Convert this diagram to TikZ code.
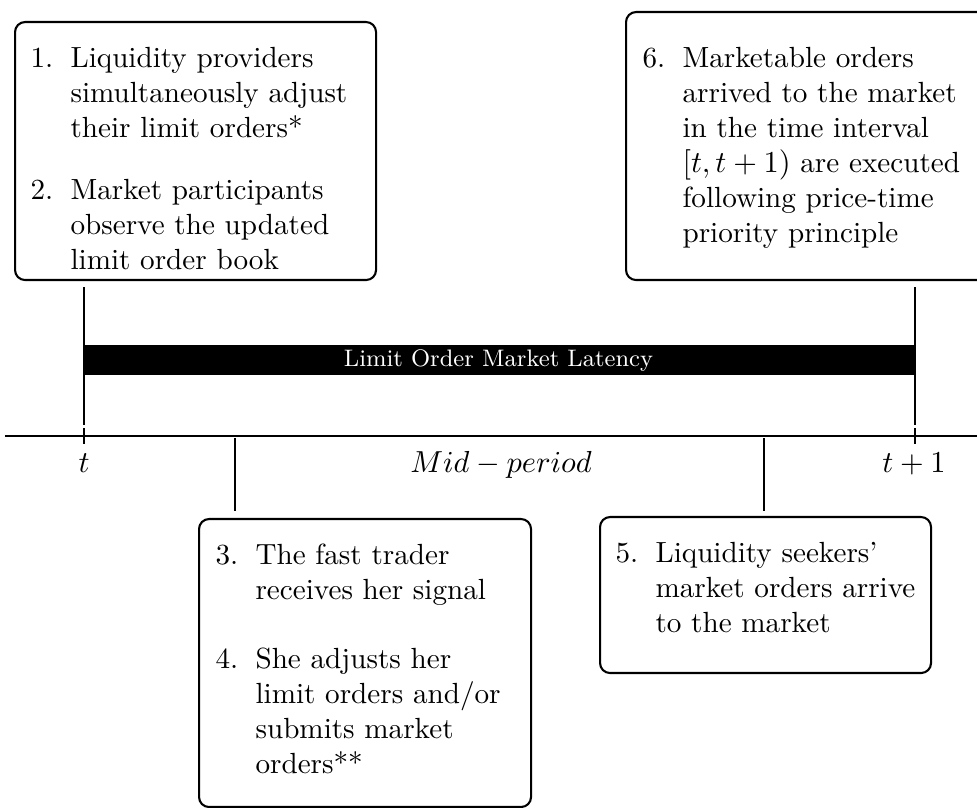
\documentclass[tikz,border=0pt]{standalone}
\usetikzlibrary{calc}

% one numbered step with a hanging indent
\newcommand\stepitem[2]{\par\hangindent=14.4pt\hangafter=1\noindent\makebox[14.4pt][l]{#1}#2}
\newcommand\stepfmt{\fontsize{10.5}{12.6}\selectfont\setlength\parskip{0pt}}

\tikzset{
  box/.style={draw, line width=0.75pt, rounded corners=3.6pt, inner sep=0pt, anchor=north west},
  txt/.style={anchor=base west, inner sep=0pt},
  lead/.style={line width=0.75pt},
  guide/.style={line width=0.4pt},
  axislabel/.style={anchor=base, inner sep=0pt, font=\fontsize{11}{13}\selectfont},
}

\begin{document}
\begin{tikzpicture}[x=0.36pt, y=-0.36pt]
\path[use as bounding box, clip] (0,0) rectangle (977,808);

% time axis and its marks
\coordinate (tA) at (84,436);
\coordinate (tB) at (915,436);
\coordinate (m1) at (235,436);
\coordinate (m2) at (764,436);
\coordinate (axL) at (5,436);
\coordinate (axR) at (977,436);
\draw[line width=0.85pt] (axL) -- (axR);
\draw[lead] ($(tA)+(0,-8)$) -- ($(tA)+(0,8)$);
\draw[lead] ($(tB)+(0,-8)$) -- ($(tB)+(0,8)$);

\node[axislabel] (lt) at (84,473) {$t$};
\node[axislabel] (lm) at (501,473) {$Mid-period$};
\node[axislabel] (lt1) at (914,473) {$t+1$};

% latency bar
\fill (84,345) rectangle (915,375);
\node[anchor=base, inner sep=0pt, text=white, font=\fontsize{8.6}{10}\selectfont] (lat) at (498.5,367) {Limit Order Market Latency};

% step boxes
\node[box, minimum width=129.96pt, minimum height=92.88pt] (b1) at (14,21) {};
\node[box, minimum width=131.4pt, minimum height=96.48pt] (b6) at (625,11) {};
\node[box, minimum width=119.52pt, minimum height=103.68pt] (b3) at (198,518) {};
\node[box, minimum width=119.16pt, minimum height=56.16pt] (b5) at (599,516) {};

\node[txt] (x1) at (30,68) {\parbox[t]{130pt}{\stepfmt
  \stepitem{1.}{Liquidity providers\\simultaneously adjust\\their limit orders*}
  \par\vspace{9.4pt}
  \stepitem{2.}{Market participants\\observe the updated\\limit order book}}};

\node[txt] (x6) at (642,68) {\parbox[t]{130pt}{\stepfmt
  \stepitem{6.}{Marketable orders\\arrived to the market\\in the time interval\\$[t,t+1)$ are executed\\following price-time\\priority principle}}};

\node[txt] (x3) at (215,565) {\parbox[t]{130pt}{\stepfmt
  \stepitem{3.}{The fast trader\\receives her signal}
  \par\vspace{11.9pt}
  \stepitem{4.}{She adjusts her\\limit orders and/or\\submits market\\orders**}}};

\node[txt] (x5) at (615,563) {\parbox[t]{130pt}{\stepfmt
  \stepitem{5.}{Liquidity seekers'\\market orders arrive\\to the market}}};

% connectors from the boxes to the axis
\draw[lead] ($(b1.south -| tA)+(0,6)$) -- ($(tA)+(0,-11)$);
\draw[lead] ($(b6.south -| tB)+(0,6)$) -- ($(tB)+(0,-11)$);
\draw[guide] ($(m1)+(0,2)$) -- ($(b3.north -| m1)+(0,-7)$);
\draw[guide] ($(m2)+(0,2)$) -- ($(b5.north -| m2)+(0,-5)$);
\end{tikzpicture}
\end{document}
